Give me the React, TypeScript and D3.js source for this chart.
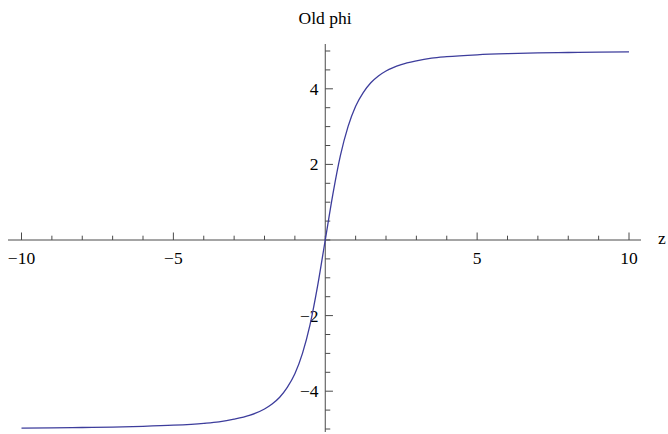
import React from "react";
import * as d3 from "d3";

// Sampled field profile phi(z)
const zValues = [
  -10, -9, -8, -7, -6, -5, -4, -3.5, -3, -2.5, -2, -1.75, -1.5, -1.25, -1, -0.75, -0.5, -0.25,
  0, 0.25, 0.5, 0.75, 1, 1.25, 1.5, 1.75, 2, 2.5, 3, 3.5, 4, 5, 6, 7, 8, 9, 10,
];
const phiValues = [
  -4.975, -4.97, -4.96, -4.95, -4.93, -4.9, -4.85, -4.81, -4.74, -4.64, -4.47, -4.34, -4.16, -3.9, -3.54, -3.0, -2.24, -1.21,
  0, 1.21, 2.24, 3.0, 3.54, 3.9, 4.16, 4.34, 4.47, 4.64, 4.74, 4.81, 4.85, 4.9, 4.93, 4.95, 4.96, 4.97, 4.975,
];

const xMajorTicks = [-10, -5, 5, 10];
const yMajorTicks = [-4, -2, 2, 4];
const titleText = "Old phi";
const xAxisLabel = "z";

const W = 668;
const H = 434;
const FONT = "'Liberation Serif', 'Times New Roman', serif";
const AXIS_COLOR = "#4a4a4a";
const CURVE_COLOR = "#3d3d9c";

export default function App() {
  const x = d3.scaleLinear().domain([-10, 10]).range([21.5, 629]);
  const y = d3.scaleLinear().domain([-5, 5]).range([429, 51]);

  const x0 = x(0);
  const y0 = y(0);

  const xMinor = d3.range(-10, 10.001, 1).filter((v) => !xMajorTicks.includes(v));
  const yMinor = d3.range(-5, 5.001, 0.5).filter((v) => !yMajorTicks.includes(v));

  const points: [number, number][] = zValues.map((z, i) => [z, phiValues[i]]);
  const line = d3
    .line<[number, number]>()
    .x((d) => x(d[0]))
    .y((d) => y(d[1]))
    .curve(d3.curveMonotoneX);

  return (
    <svg
      width={W}
      height={H}
      viewBox={`0 0 ${W} ${H}`}
      style={{ position: "absolute", left: 0, top: 0, background: "#fff" }}
    >
      {/* title */}
      <text x={325} y={23.5} textAnchor="middle" fontFamily={FONT} fontSize={17.5} fill="#000">
        {titleText}
      </text>

      {/* horizontal axis */}
      <line x1={8} x2={641} y1={y0} y2={y0} stroke={AXIS_COLOR} strokeWidth={1} />
      {xMinor.map((v) => (
        <line key={`xm${v}`} x1={x(v)} x2={x(v)} y1={y0} y2={y0 - 4.3} stroke={AXIS_COLOR} strokeWidth={1} />
      ))}
      {xMajorTicks.map((v) => (
        <g key={`xM${v}`}>
          <line x1={x(v)} x2={x(v)} y1={y0} y2={y0 - 7.5} stroke={AXIS_COLOR} strokeWidth={1} />
          <text
            x={x(v)}
            y={263.5}
            textAnchor="middle"
            fontFamily={FONT}
            fontSize={17.5}
            fill="#000"
          >
            {v < 0 ? `\u2212${Math.abs(v)}` : `${v}`}
          </text>
        </g>
      ))}
      <text x={658} y={y0} dominantBaseline="middle" fontFamily={FONT} fontSize={17.5} fill="#000">
        {xAxisLabel}
      </text>

      {/* vertical axis */}
      <line x1={x0} x2={x0} y1={44} y2={432} stroke={AXIS_COLOR} strokeWidth={1} />
      {yMinor.map((v) => (
        <line key={`ym${v}`} x1={x0} x2={x0 + 5} y1={y(v)} y2={y(v)} stroke={AXIS_COLOR} strokeWidth={1} />
      ))}
      {yMajorTicks.map((v) => (
        <g key={`yM${v}`}>
          <line x1={x0} x2={x0 + 7.7} y1={y(v)} y2={y(v)} stroke={AXIS_COLOR} strokeWidth={1} />
          <text
            x={318.5}
            y={y(v)}
            textAnchor="end"
            dominantBaseline="central"
            fontFamily={FONT}
            fontSize={17.5}
            fill="#000"
          >
            {v < 0 ? `\u2212${Math.abs(v)}` : `${v}`}
          </text>
        </g>
      ))}

      {/* curve */}
      <path d={line(points) ?? ""} fill="none" stroke={CURVE_COLOR} strokeWidth={1.3} />
    </svg>
  );
}
